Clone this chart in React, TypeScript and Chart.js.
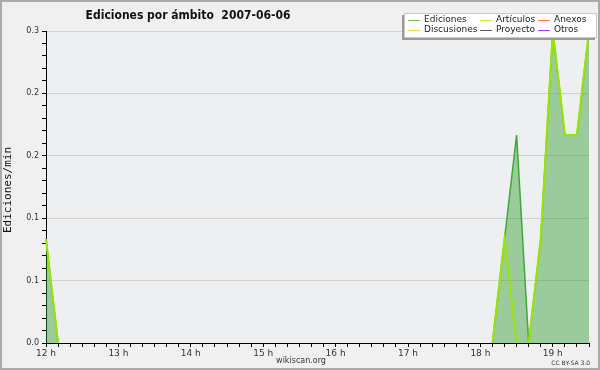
import React, { useEffect, useRef } from "react";
import { Chart, registerables } from "chart.js";

Chart.register(...registerables);

// 10-minute bins, 12:00 – 19:30
const times = [
  "12:00", "12:10", "12:20", "12:30", "12:40", "12:50",
  "13:00", "13:10", "13:20", "13:30", "13:40", "13:50",
  "14:00", "14:10", "14:20", "14:30", "14:40", "14:50",
  "15:00", "15:10", "15:20", "15:30", "15:40", "15:50",
  "16:00", "16:10", "16:20", "16:30", "16:40", "16:50",
  "17:00", "17:10", "17:20", "17:30", "17:40", "17:50",
  "18:00", "18:10", "18:20", "18:30", "18:40", "18:50",
  "19:00", "19:10", "19:20", "19:30",
];

// edits per minute
const ediciones = [
  0.1, 0, 0, 0, 0, 0,
  0, 0, 0, 0, 0, 0,
  0, 0, 0, 0, 0, 0,
  0, 0, 0, 0, 0, 0,
  0, 0, 0, 0, 0, 0,
  0, 0, 0, 0, 0, 0,
  0, 0, 0.1, 0.2, 0, 0.1,
  0.3, 0.2, 0.2, 0.3,
];

const articulos = [
  0.1, 0, 0, 0, 0, 0,
  0, 0, 0, 0, 0, 0,
  0, 0, 0, 0, 0, 0,
  0, 0, 0, 0, 0, 0,
  0, 0, 0, 0, 0, 0,
  0, 0, 0, 0, 0, 0,
  0, 0, 0.1, 0, 0, 0.1,
  0.3, 0.2, 0.2, 0.3,
];

const sinEdiciones = [
  0, 0, 0, 0, 0, 0,
  0, 0, 0, 0, 0, 0,
  0, 0, 0, 0, 0, 0,
  0, 0, 0, 0, 0, 0,
  0, 0, 0, 0, 0, 0,
  0, 0, 0, 0, 0, 0,
  0, 0, 0, 0, 0, 0,
  0, 0, 0, 0,
];

const anexos = sinEdiciones;
const discusiones = sinEdiciones;
const proyecto = sinEdiciones;
const otros = sinEdiciones;

const yMajorLabels = ["0.0", "0.1", "0.1", "0.2", "0.2", "0.3"];
const yMax = 0.3;
const yMinorPerMajor = 5;

const seriesNames = ["Ediciones", "Artículos", "Anexos", "Discusiones", "Proyecto", "Otros"];
const legendColors = ["#6cc46c", "#c8ec3a", "#ff7a45", "#ffd23a", "#5a5a5a", "#9a3cff"];

const titleText = "Ediciones por ámbito  2007-06-06";
const yTitle = "Ediciones/min";

const FONT = "'DejaVu Sans', sans-serif";

// segments lying flat on the baseline are left undrawn, the axis shows there
const hideBaseline = {
  borderColor: (c: any) =>
    c.p0.parsed.y === 0 && c.p1.parsed.y === 0 ? "rgba(0,0,0,0)" : undefined,
};

const decor = {
  id: "decor",
  beforeDraw(chart: any) {
    const { ctx, chartArea: a, width, height } = chart;
    ctx.save();
    ctx.fillStyle = "#f0f0f0";
    ctx.fillRect(0, 0, width, height);
    ctx.fillStyle = "#eeeff1";
    ctx.fillRect(a.left, a.top, a.right - a.left, a.bottom - a.top);
    ctx.restore();
  },
  afterDraw(chart: any) {
    const { ctx, width, height } = chart;
    ctx.save();

    // frame
    ctx.strokeStyle = "#aaaaaa";
    ctx.lineWidth = 2;
    ctx.strokeRect(1, 1, width - 2, height - 2);

    // title
    ctx.fillStyle = "#111";
    ctx.font = "bold 12px 'DejaVu Sans Condensed', 'DejaVu Sans', sans-serif";
    ctx.textAlign = "center";
    ctx.textBaseline = "middle";
    ctx.fillText(titleText, 188, 16);

    // y axis title
    ctx.save();
    ctx.translate(8, 190);
    ctx.rotate(-Math.PI / 2);
    ctx.font = "11px 'DejaVu Sans Mono', monospace";
    ctx.fillStyle = "#111";
    ctx.fillText(yTitle, 0, 0);
    ctx.restore();

    // footer
    ctx.fillStyle = "#333";
    ctx.font = "8px " + FONT;
    ctx.textAlign = "center";
    ctx.fillText("wikiscan.org", 301, 361);
    ctx.font = "6px " + FONT;
    ctx.textAlign = "right";
    ctx.fillText("CC BY-SA 3.0", 590, 363);

    // legend box
    const bx = 404, by = 13, bw = 193, bh = 25;
    ctx.fillStyle = "#9a9a9a";
    ctx.fillRect(bx - 2, by + 2, bw, bh);
    ctx.fillStyle = "#ffffff";
    ctx.fillRect(bx, by, bw, bh);
    ctx.strokeStyle = "#c8c8c8";
    ctx.lineWidth = 1;
    ctx.strokeRect(bx + 0.5, by + 0.5, bw - 1, bh - 1);

    const cols = [408, 480, 538];
    const rows = [20, 30];
    ctx.font = "9px " + FONT;
    ctx.textAlign = "left";
    ctx.textBaseline = "middle";
    seriesNames.forEach((name, k) => {
      const x = cols[k % 3];
      const y = rows[Math.floor(k / 3)];
      ctx.strokeStyle = legendColors[k];
      ctx.lineWidth = 1;
      ctx.beginPath();
      ctx.moveTo(x, y + 0.5);
      ctx.lineTo(x + 12, y + 0.5);
      ctx.stroke();
      ctx.fillStyle = "#222";
      ctx.fillText(name, x + 16, y);
    });

    ctx.restore();
  },
};

export default function App() {
  const ref = useRef<HTMLCanvasElement>(null);

  useEffect(() => {
    const yTicks: number[] = [];
    const nMinor = (yMajorLabels.length - 1) * yMinorPerMajor;
    for (let i = 0; i <= nMinor; i++) yTicks.push((yMax * i) / nMinor);

    const chart = new Chart(ref.current as HTMLCanvasElement, {
      type: "line",
      data: {
        labels: times,
        datasets: [
          {
            label: seriesNames[0],
            data: ediciones,
            borderColor: "#3aaa35",
            borderWidth: 1.5,
            backgroundColor: "rgba(40,150,40,0.42)",
            fill: "origin",
            order: 1,
            segment: hideBaseline,
          },
          {
            label: seriesNames[1],
            data: articulos,
            borderColor: "#99e600",
            borderWidth: 2,
            fill: false,
            order: 0,
            segment: hideBaseline,
          },
          { label: seriesNames[2], data: anexos, borderColor: legendColors[2], borderWidth: 1, fill: false, order: 2, segment: hideBaseline },
          { label: seriesNames[3], data: discusiones, borderColor: legendColors[3], borderWidth: 1, fill: false, order: 2, segment: hideBaseline },
          { label: seriesNames[4], data: proyecto, borderColor: legendColors[4], borderWidth: 1, fill: false, order: 2, segment: hideBaseline },
          { label: seriesNames[5], data: otros, borderColor: legendColors[5], borderWidth: 1, fill: false, order: 2, segment: hideBaseline },
        ],
      },
      options: {
        responsive: false,
        animation: false,
        devicePixelRatio: 1,
        layout: { padding: { left: 6, right: 11, top: 31, bottom: 11 } },
        elements: { point: { radius: 0 }, line: { tension: 0 } },
        plugins: {
          legend: { display: false },
          tooltip: { enabled: false },
          title: { display: false },
        },
        scales: {
          x: {
            type: "category",
            offset: false,
            z: 1,
            afterFit: (s: any) => {
              s.height = 16;
            },
            grid: {
              display: true,
              drawOnChartArea: false,
              drawTicks: true,
              tickLength: 4,
              tickColor: "#000",
            },
            border: { display: true, color: "#000", width: 1 },
            ticks: {
              autoSkip: false,
              maxRotation: 0,
              minRotation: 0,
              padding: 1,
              color: "#333",
              font: { family: FONT, size: 9 },
              callback: (_v: any, i: number) =>
                times[i].endsWith(":00") ? `${parseInt(times[i], 10)} h` : "",
            },
          },
          y: {
            type: "linear",
            min: 0,
            max: yMax,
            z: 1,
            afterFit: (s: any) => {
              s.width = 40;
            },
            afterBuildTicks: (s: any) => {
              s.ticks = yTicks.map((v) => ({ value: v }));
            },
            grid: {
              color: (c: any) => (c.index % yMinorPerMajor === 0 ? "#cfcfcf" : "rgba(0,0,0,0)"),
              tickColor: "#000",
              tickLength: 4,
              drawTicks: true,
            },
            border: { display: true, color: "#000", width: 1 },
            ticks: {
              autoSkip: false,
              padding: 3,
              color: "#333",
              font: { family: FONT, size: 8 },
              callback: (_v: any, i: number) =>
                i % yMinorPerMajor === 0 ? yMajorLabels[i / yMinorPerMajor] : "",
            },
          },
        },
      },
      plugins: [decor],
    });
    return () => chart.destroy();
  }, []);

  return (
    <div style={{ position: "absolute", left: 0, top: 0, width: 600, height: 370 }}>
      <canvas ref={ref} width={600} height={370} style={{ display: "block", width: 600, height: 370 }} />
    </div>
  );
}
